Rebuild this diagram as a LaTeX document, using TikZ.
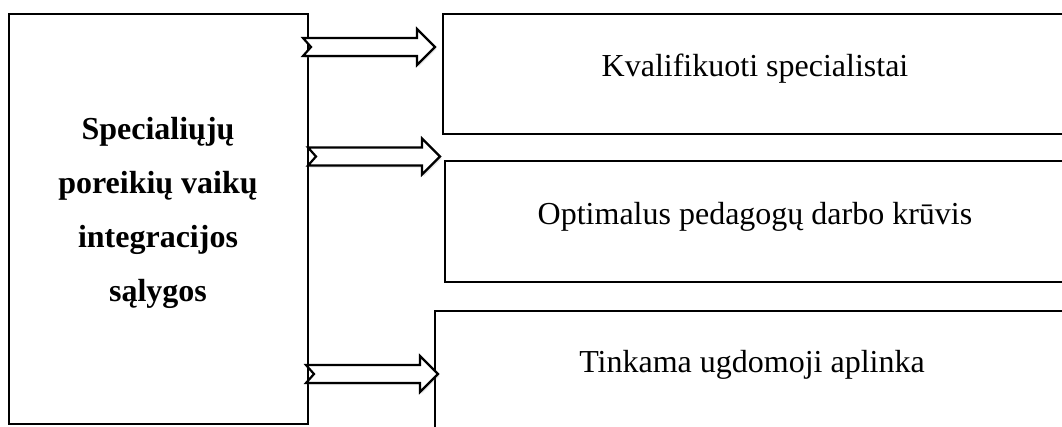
\documentclass[tikz,border=0pt]{standalone}
\usepackage{fontspec}
\setmainfont{Liberation Serif}
\usetikzlibrary{shadows}
\begin{document}
\begin{tikzpicture}[x=1pt,y=-1pt,
  box/.style={draw=black,line width=2pt,fill=white,inner sep=0pt,anchor=north west},
  label/.style={font=\fontsize{32}{38}\selectfont,inner sep=0pt,anchor=base},
  blockarrow/.pic={
    \filldraw[fill=white,draw=black,line width=2.2pt,line join=miter,
      drop shadow={opacity=0.18,shadow xshift=1.5pt,shadow yshift=-2pt}]
      (0,-9) -- (114,-9) -- (114,-18) -- (132,0) -- (114,18) -- (114,9)
      -- (0,9) -- (8,0) -- cycle;
  }]
\useasboundingbox (0,0) rectangle (1062,426);

% left box with its title
\node[box,minimum width=299pt,minimum height=410pt] (cond) at (8,13) {};
\node[font=\bfseries\fontsize{32}{54}\selectfont,align=center,inner sep=0pt]
  (condtext) at (158,212.5)
  {Specialiųjų\\poreikių vaikų\\integracijos\\sąlygos};

% right boxes (they run on past the right edge)
\node[box,minimum width=640pt,minimum height=120pt] (qual) at (442,13) {};
\node[box,minimum width=640pt,minimum height=121pt] (load) at (444,160) {};
\node[box,minimum width=640pt,minimum height=140pt] (env) at (434,310) {};

\node[label] (qualtext) at (755,76) {Kvalifikuoti specialistai};
\node[label] (loadtext) at (755,224) {Optimalus pedagogų darbo krūvis};
\node[label] (envtext) at (752,372) {Tinkama ugdomoji aplinka};

% block arrows from the left box to each box on the right
\coordinate (a1) at (303,47);
\coordinate (a2) at (308,156.5);
\coordinate (a3) at (306,374);
\pic at (a1) {blockarrow};
\pic at (a2) {blockarrow};
\pic at (a3) {blockarrow};
\end{tikzpicture}
\end{document}
